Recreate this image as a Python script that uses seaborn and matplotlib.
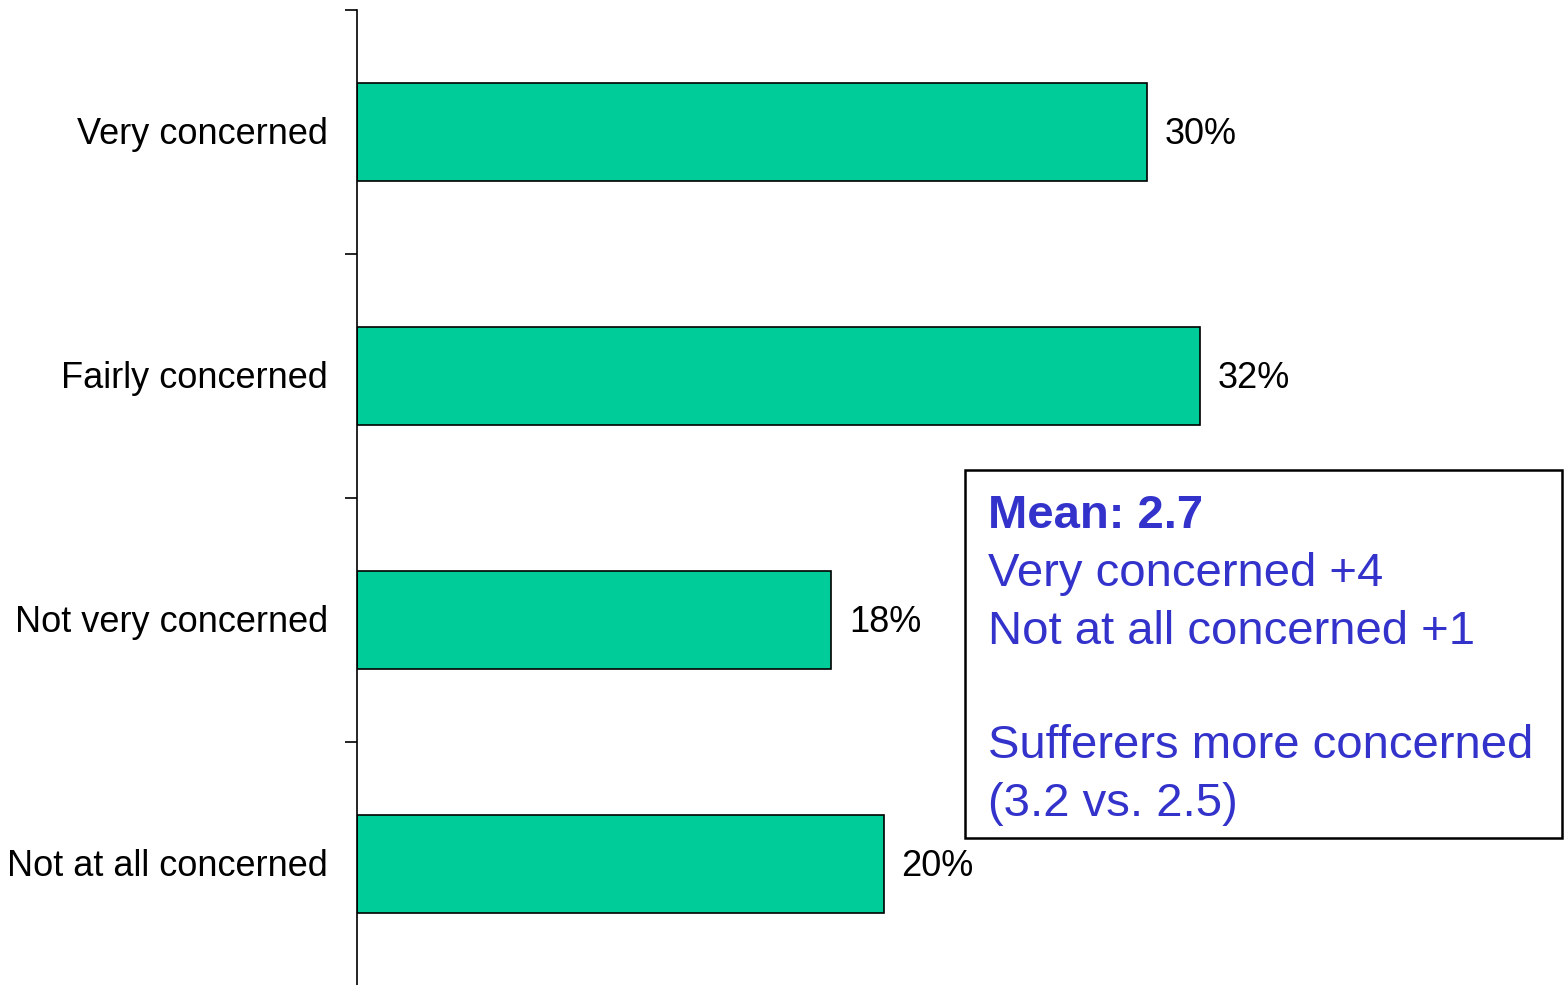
import matplotlib
matplotlib.use("Agg")
import matplotlib.pyplot as plt
import seaborn as sns
import pandas as pd

# --- data ---
categories = ["Very concerned", "Fairly concerned", "Not very concerned", "Not at all concerned"]
percentages = [30, 32, 18, 20]
box_title = "Mean: 2.7"
box_lines = ["Very concerned +4", "Not at all concerned +1", "", "Sufferers more concerned", "(3.2 vs. 2.5)"]

df = pd.DataFrame({"Category": categories, "Pct": percentages})

sns.set_style("white")
plt.rcParams["font.family"] = ["Liberation Sans", "DejaVu Sans"]

W, H = 1565, 985
fig = plt.figure(figsize=(W / 100, H / 100), dpi=100)
# axes: spine at x=357px, top at y=10px, four 244px rows
ax = fig.add_axes([357 / W, (H - 986) / H, (W - 357) / W, 976 / H])

sns.barplot(data=df, x="Pct", y="Category", orient="h", color="#00CC99",
            saturation=1, width=0.4, edgecolor="black", linewidth=1.2, ax=ax)

ax.set_xlim(0, (W - 357) / 26.33)
ax.set_ylim(3.5, -0.5)

dy = 3 / 244  # nudge text down a few pixels to match reference centring

# value labels
for i, v in enumerate(percentages):
    ax.text(v + 0.68, i + dy, f"{v}%", va="center", ha="left", fontsize=26, color="black")

# ticks between categories, pointing out
ax.set_yticks([-0.5, 0.5, 1.5, 2.5])
ax.set_yticklabels([])
ax.tick_params(axis="y", direction="out", length=8.6, width=1.2, left=True, color="black")
for i, c in enumerate(categories):
    ax.text(-1.1, i + dy, c, va="center", ha="right", fontsize=26, color="black")

ax.set_xticks([])
ax.set_xlabel("")
ax.set_ylabel("")
for s in ["top", "right", "bottom"]:
    ax.spines[s].set_visible(False)
ax.spines["left"].set_color("black")
ax.spines["left"].set_linewidth(1.2)

# annotation box
bx0, by0, bx1, by1 = 965, 470, 1562, 838
rect = plt.Rectangle((bx0 / W, 1 - by1 / H), (bx1 - bx0) / W, (by1 - by0) / H,
                     transform=fig.transFigure, facecolor="white", edgecolor="black",
                     linewidth=1.8, zorder=5)
fig.patches.append(rect)

blue = "#3333CC"
fig.text(988 / W, 1 - 516 / H, box_title, color=blue, fontsize=34,
         fontweight="bold", va="center", ha="left", zorder=6)
for k, line in enumerate(box_lines):
    y = 574 + k * 57.5
    fig.text(988 / W, 1 - y / H, line, color=blue, fontsize=34,
             va="center", ha="left", zorder=6)

fig.savefig("out.png", dpi=100, facecolor="white")
